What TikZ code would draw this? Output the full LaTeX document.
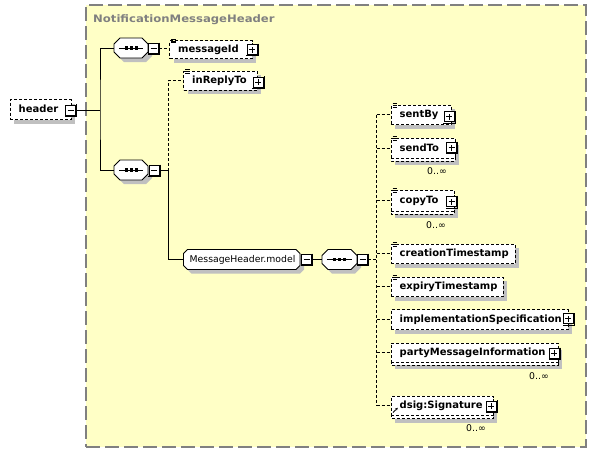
\documentclass[tikz,border=0pt]{standalone}
\usepackage{fontspec}
\setmainfont{DejaVu Sans}
\usetikzlibrary{calc,arrows.meta}
\definecolor{bgy}{RGB}{255,255,198}
\definecolor{bordgray}{RGB}{128,128,128}
\definecolor{shadowc}{RGB}{192,192,192}
\tikzset{
 elb/.style={draw=black, line width=0.9pt, dash pattern=on 3pt off 2pt, fill=white, inner sep=0},
 lbl/.style={inner sep=0, anchor=base west, font=\fontsize{10}{12}\selectfont\bfseries},
 rlbl/.style={inner sep=0, anchor=base west, font=\fontsize{9.3}{11}\selectfont},
 card/.style={inner sep=0, font=\fontsize{9.3}{11}\selectfont},
 sol/.style={line width=0.9pt},
 dsh/.style={line width=0.9pt, dash pattern=on 3pt off 2pt},
}
% element box: name x1 y1 x2 y2 text
\newcommand\ElBox[6]{%
 \fill[shadowc] (#2+4,#3+4) rectangle (#4+4,#5+4);
 \node[elb, minimum width=#4-#2, minimum height=#5-#3] (#1) at ({(#2+#4)/2},{(#3+#5)/2}) {};
 \node[lbl] (#1-t) at (#2+8.5,{(#3+#5)/2+3.2}) {#6};
}
% multiple-occurrence box
\newcommand\MulBox[6]{%
 \fill[shadowc] (#2+4,#3+7) rectangle (#4+4,#5+7);
 \draw[elb] (#2,#3+3) rectangle (#4,#5+3);
 \node[elb, minimum width=#4-#2, minimum height=#5-#3] (#1) at ({(#2+#4)/2},{(#3+#5)/2}) {};
 \node[lbl] (#1-t) at (#2+8.5,{(#3+#5)/2+3.2}) {#6};
}
% type icon
\newcommand\Tick[1]{%
 \draw[line width=0.75pt] ($(#1.north west)+(2,-0.7)$) -- +(4.5,0)
   ($(#1.north west)+(2,1.0)$) -- +(4.5,0)
   ($(#1.north west)+(2,2.7)$) -- +(4.5,0);
}
% plus/minus: name cx cy plus?
\newcommand\PM[4]{%
 \node[inner sep=0, minimum size=10, fill=white, draw=black, line width=0.8pt] (#1) at (#2,#3) {};
 \draw[line width=1pt] ([xshift=0.9pt,yshift=0.4pt]#1.north east) -- ([xshift=0.9pt,yshift=-0.9pt]#1.south east) -- ([xshift=-0.4pt,yshift=-0.9pt]#1.south west);
 \draw[line width=0.9pt] ([xshift=-3pt]#1.center) -- ([xshift=3pt]#1.center);
 \ifnum#4=1 \draw[line width=0.9pt] ([yshift=-3pt]#1.center) -- ([yshift=3pt]#1.center);\fi
}
% sequence compositor: name x1 y1 x2 y2
\newcommand\Seq[5]{%
 \fill[shadowc] (#2+6+4,#3+4) -- (#4-6+4,#3+4) -- (#4+4,#3+6+4) -- (#4+4,#5-6+4) -- (#4-6+4,#5+4) -- (#2+6+4,#5+4) -- (#2+4,#5-6+4) -- (#2+4,#3+6+4) -- cycle;
 \filldraw[fill=white, line width=0.9pt] (#2+6,#3) -- (#4-6,#3) -- (#4,#3+6) -- (#4,#5-6) -- (#4-6,#5) -- (#2+6,#5) -- (#2,#5-6) -- (#2,#3+6) -- cycle;
 \node[inner sep=0, minimum width=#4-#2, minimum height=#5-#3] (#1) at ({(#2+#4)/2},{(#3+#5)/2}) {};
 \draw[line width=0.9pt] ($(#1.west)+(5,0)$) -- ($(#1.east)+(-5,0)$);
 \fill ($(#1.center)+(-6.5,-1.6)$) rectangle +(3,3.2);
 \fill ($(#1.center)+(-1.5,-1.6)$) rectangle +(3,3.2);
 \fill ($(#1.center)+(3.5,-1.6)$) rectangle +(3,3.2);
}
\begin{document}
\begin{tikzpicture}[x=1pt,y=-1pt]
\useasboundingbox (0,0) rectangle (597,453);
% complex type frame
\node[draw=bordgray, line width=1.5pt, dash pattern=on 14pt off 5pt, fill=bgy, inner sep=0,
      minimum width=500, minimum height=442] (cplx) at (336,226) {};
\node[inner sep=0, anchor=base west, text=bordgray, font=\fontsize{10.3}{12}\selectfont\bfseries] (ttl) at (93,22.3) {\scalebox{1.13}[1]{NotificationMessageHeader}};

% header
\ElBox{hdr}{10}{99.5}{71}{119.5}{header}
\PM{hdr-m}{70.5}{110}{0}
\coordinate (j1) at (100,110);

% compositors
\Seq{sq1}{114}{38}{148}{58}
\PM{sq1-m}{153.5}{48.5}{0}
\Seq{sq2}{114}{160}{148}{180}
\PM{sq2-m}{154}{170.5}{0}
\draw[sol] (hdr-m.east) -- (j1);
\draw[sol] (sq1.west) -| (j1) |- (sq2.west);

% messageId, inReplyTo
\ElBox{msg}{169.5}{40.5}{252}{58.5}{messageId}
\Tick{msg}
\PM{msg-p}{252}{49.5}{1}
\draw[dsh] (sq1-m.east) -- (sq1-m.east -| msg.west);

\ElBox{rep}{183.5}{71}{257}{90}{inReplyTo}
\Tick{rep}
\PM{rep-p}{258}{82}{1}

% MessageHeader.model
\fill[shadowc] (183.5+4+4,249.5+4) -- (300-4+4,249.5+4) -- (300+4,249.5+4+4) -- (300+4,269.5-4+4) -- (300-4+4,269.5+4) -- (183.5+4+4,269.5+4) -- (183.5+4,269.5-4+4) -- (183.5+4,249.5+4+4) -- cycle;
\filldraw[fill=white, line width=0.9pt] (183.5+4,249.5) -- (300-4,249.5) -- (300,249.5+4) -- (300,269.5-4) -- (300-4,269.5) -- (183.5+4,269.5) -- (183.5,269.5-4) -- (183.5,249.5+4) -- cycle;
\node[inner sep=0, minimum width=116.5, minimum height=20] (model) at (241.75,259.5) {};
\node[rlbl] (model-t) at (189.5,262.8) {MessageHeader.model};
\PM{model-m}{306.5}{259.5}{0}

\coordinate (j2) at (168,170.5);
\draw[sol] (sq2-m.east) -- (j2) |- (model.west);
\draw[dsh] (j2) -- (j2 |- rep.west) -- (rep.west);

\Seq{sq3}{322}{249.5}{357}{269.5}
\PM{sq3-m}{362.5}{259.5}{0}
\draw[sol] (model-m.east) -- (sq3.west);
\coordinate (j3) at (376.5,259.5);
\draw[dsh] (sq3-m.east) -- (j3);

% children
\ElBox{sby}{391}{105}{451}{124.5}{sentBy}
\Tick{sby}
\PM{sby-p}{449}{116.7}{1}

\MulBox{sdt}{391}{138}{455}{158}{sendTo}
\Tick{sdt}
\PM{sdt-p}{451.5}{147.5}{1}
\node[card] (sdt-c) at (437,171) {0..∞};

\MulBox{cpt}{391}{190}{454}{211}{copyTo}
\Tick{cpt}
\PM{cpt-p}{451.5}{201.7}{1}
\node[card] (cpt-c) at (436,225) {0..∞};

\ElBox{cts}{391}{244}{515}{263.5}{creationTimestamp}
\Tick{cts}

\ElBox{ets}{391}{277}{503}{296.5}{expiryTimestamp}
\Tick{ets}

\ElBox{isp}{391}{309.5}{568}{329.5}{implementationSpecification}
\PM{isp-p}{568.3}{318.8}{1}

\MulBox{pmi}{391}{343}{558}{362}{partyMessageInformation}
\PM{pmi-p}{554.3}{353.3}{1}
\node[card] (pmi-c) at (539,376) {0..∞};

\MulBox{sig}{391}{396}{493}{415.5}{dsig:Signature}
\PM{sig-p}{491.3}{406.2}{1}
\node[card] (sig-c) at (476,428) {0..∞};
\draw[line width=0.8pt, -{Stealth[length=2.6pt,width=2.6pt]}] (393,412.5) -- (397.8,407.8);

% dashed tree to children
\draw[dsh] (j3 |- sby.west) -- (j3 |- sig.west);
\foreach \c in {sby,sdt,cpt,cts,ets,isp,pmi,sig}{
  \draw[dsh] (j3 |- \c.west) -- (\c.west);
}
\end{tikzpicture}
\end{document}
